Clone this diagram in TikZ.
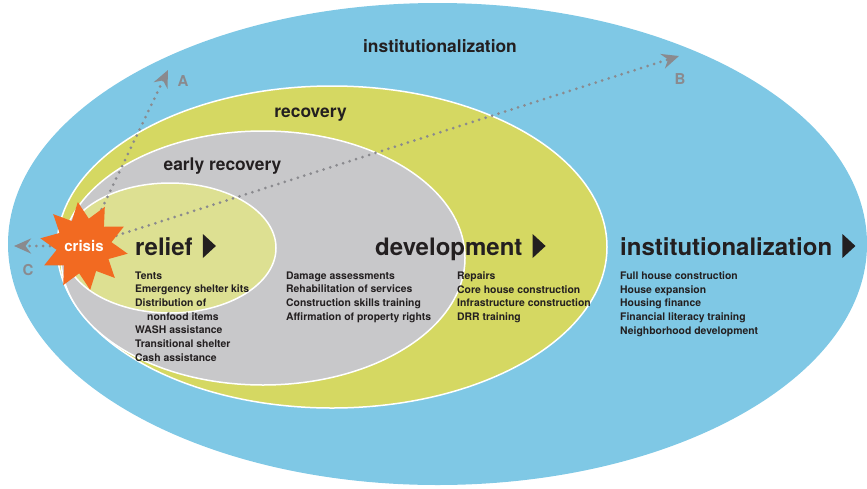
\documentclass[tikz,border=0pt]{standalone}
\usepackage{fontspec}
\setmainfont{TeX Gyre Heros}
\usetikzlibrary{arrows.meta,shapes.geometric}
\definecolor{instblue}{HTML}{7FC8E5}
\definecolor{recyellow}{HTML}{D5D862}
\definecolor{earlygray}{HTML}{C8C8CA}
\definecolor{relgreen}{HTML}{DDE092}
\definecolor{crisisorange}{HTML}{F26A21}
\definecolor{pathgray}{HTML}{8A8A8E}
\definecolor{ink}{HTML}{231F20}
% black triangle after a phase heading
\newcommand{\headarrow}[1]{\fill[ink] (#1.base east) ++(10,3) -- ++(0,-24) -- ++(13,12) -- cycle;}
\begin{document}
\begin{tikzpicture}[x=1pt,y=-1pt,line join=round,
	zone/.style={draw=white,line width=1.5pt},
	zonelabel/.style={anchor=base,inner sep=0,text=ink,font=\fontsize{17.4}{18}\selectfont\bfseries},
	head/.style={anchor=base west,inner sep=0,text=ink,font=\fontsize{24}{24}\selectfont\bfseries},
	items/.style={anchor=north west,inner sep=0,align=left,text=ink,font=\fontsize{10.4}{13.7}\selectfont\bfseries},
	pathline/.style={pathgray,line width=3pt,line cap=round,dash pattern=on 0pt off 6.8pt,-{Stealth[length=17pt,width=15pt]}},
	pathlabel/.style={inner sep=0,text=pathgray,font=\fontsize{15}{15}\selectfont\bfseries},
	crisisstar/.style={star,star points=10,star point ratio=1.6,minimum size=80pt,inner sep=0,shape border rotate=8,fill=crisisorange,text=white,font=\fontsize{15}{15}\selectfont\bfseries}]
	\useasboundingbox (0,0) rectangle (867,488);
	% cac vung long nhau
	\fill[instblue] (437.5,244) ellipse [x radius=429.5pt, y radius=241pt];
	\filldraw[zone,fill=recyellow] (332,247) ellipse [x radius=275pt, y radius=161pt];
	\filldraw[zone,fill=earlygray] (263,258) ellipse [x radius=202pt, y radius=127pt];
	\filldraw[zone,fill=relgreen] (170,248) ellipse [x radius=106pt, y radius=65pt];
	% ten cac vung
	\node[zonelabel] (instlab) at (440,52) {institutionalization};
	\node[zonelabel] (reclab) at (310.5,117) {recovery};
	\node[zonelabel] (earlylab) at (222.5,170) {early recovery};
	% cac duong di tu khung hoang
	\coordinate (crisisc) at (84,246);
	\coordinate (tipA) at (168,70);
	\coordinate (tipB) at (679,56);
	\coordinate (tipC) at (14,246);
	\draw[pathline] (crisisc) -- (tipA);
	\draw[pathline] (crisisc) -- (tipB);
	\draw[pathline] (crisisc) -- (tipC);
	\node[pathlabel] (labA) at (183,81) {A};
	\node[pathlabel] (labB) at (680,79) {B};
	\node[pathlabel] (labC) at (28,270) {C};
	\node[crisisstar] (crisis) at (crisisc) {crisis};
	% cac giai doan
	\node[head] (relief) at (135,255) {relief};
	\headarrow{relief}
	\node[head] (devel) at (375,255) {development};
	\headarrow{devel}
	\node[head] (inst) at (620,255) {institutionalization};
	\headarrow{inst}
	% danh sach hoat dong
	\node[items] (relitems) at (135,271.4) {Tents\\Emergency shelter kits\\Distribution of\\\hspace*{12pt}nonfood items\\WASH assistance\\Transitional shelter\\Cash assistance};
	\node[items] (earlyitems) at (286,271.4) {Damage assessments\\Rehabilitation of services\\Construction skills training\\Affirmation of property rights};
	\node[items] (recitems) at (457,271.4) {Repairs\\Core house construction\\Infrastructure construction\\DRR training};
	\node[items] (institems) at (620,271.4) {Full house construction\\House expansion\\Housing finance\\Financial literacy training\\Neighborhood development};
\end{tikzpicture}
\end{document}
